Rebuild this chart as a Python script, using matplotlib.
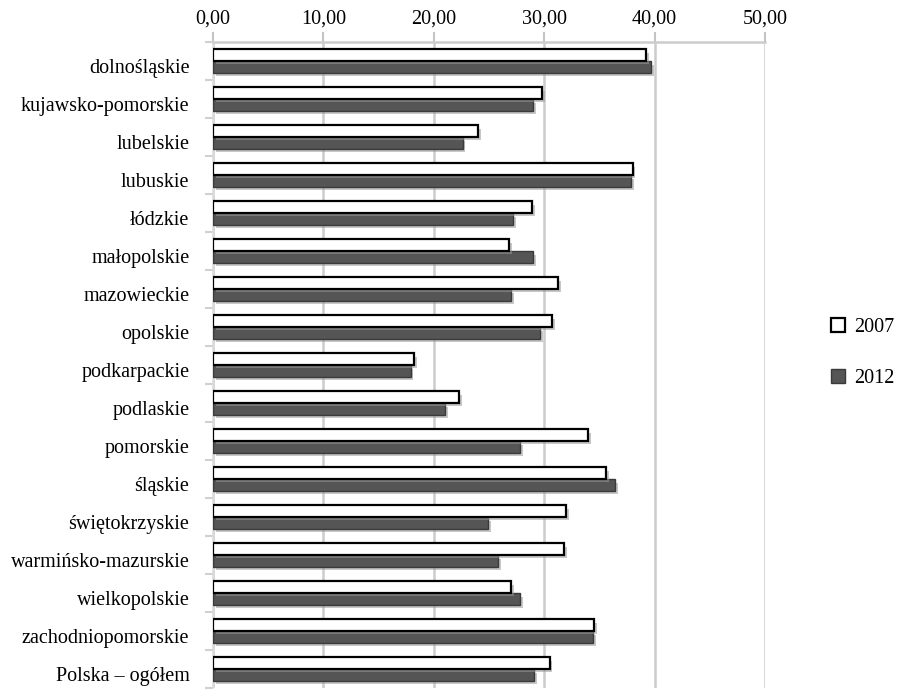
import matplotlib
matplotlib.use("Agg")
import matplotlib.pyplot as plt
import matplotlib.patheffects as pe
import matplotlib.transforms as mtransforms
from matplotlib.patches import Patch
import numpy as np

categories = ["dolnośląskie", "kujawsko-pomorskie", "lubelskie", "lubuskie", "łódzkie",
              "małopolskie", "mazowieckie", "opolskie", "podkarpackie", "podlaskie",
              "pomorskie", "śląskie", "świętokrzyskie", "warmińsko-mazurskie",
              "wielkopolskie", "zachodniopomorskie", "Polska – ogółem"]
v2007 = [39.2, 29.8, 24.0, 38.0, 28.9, 26.8, 31.25, 30.7, 18.2, 22.3, 34.0, 35.6,
         32.0, 31.8, 27.0, 34.5, 30.5]
v2012 = [39.7, 29.0, 22.6, 37.9, 27.2, 29.0, 27.0, 29.65, 17.9, 21.0, 27.8, 36.4,
         24.9, 25.8, 27.8, 34.4, 29.1]
xticks = [0, 10, 20, 30, 40, 50]
xticklabels = ["0,00", "10,00", "20,00", "30,00", "40,00", "50,00"]
series_names = ["2007", "2012"]

plt.rcParams['font.family'] = ['Liberation Serif', 'DejaVu Serif']
FS = 14.5

fig = plt.figure(figsize=(8.99, 6.96), dpi=100)
ax = fig.add_axes([213/899, 1 - 688/696, (765-213)/899, (688-42)/696])

y = np.arange(len(categories))
h = 0.31
shadow = [pe.SimplePatchShadow(offset=(2, -2.5), shadow_rgbFace='#999999', alpha=0.55), pe.Normal()]
b2 = ax.barh(y + h/2 + 0.005, v2012, height=h, color='#555555', edgecolor='#3a3a3a',
             linewidth=1.0, zorder=3)
b1 = ax.barh(y - h/2, v2007, height=h, color='white', edgecolor='black',
             linewidth=1.6, zorder=4)
for p in list(b1) + list(b2):
    p.set_path_effects(shadow)

ax.set_xlim(0, 50)
ax.set_ylim(len(categories) - 0.5, -0.5)
ax.xaxis.tick_top()
ax.set_xticks(xticks)
ax.set_xticklabels(xticklabels, fontsize=FS)
ax.tick_params(axis='x', length=7, color='#c4c4c4', width=1.5, pad=3)
ax.set_yticks(y)
ax.set_yticklabels(categories, fontsize=FS)
ax.tick_params(axis='y', which='major', length=0, pad=17)
ax.set_yticks(np.arange(-0.5, len(categories), 1), minor=True)
ax.tick_params(axis='y', which='minor', length=6, color='#d0d0d0', width=1.5)
offset = mtransforms.ScaledTranslation(0, -5/100, fig.dpi_scale_trans)
for lab in ax.get_yticklabels():
    lab.set_transform(lab.get_transform() + offset)

ax.grid(axis='x', color='#cccccc', linewidth=1.8, zorder=0)
ax.set_axisbelow(True)
for s in ['right', 'bottom']:
    ax.spines[s].set_visible(False)
ax.spines['top'].set_color('#cccccc')
ax.spines['top'].set_linewidth(1.8)
ax.spines['left'].set_color('#dddddd')
ax.spines['left'].set_linewidth(1.2)

handles = [Patch(facecolor='white', edgecolor='black', linewidth=1.6),
           Patch(facecolor='#555555', edgecolor='#3a3a3a', linewidth=1.0)]
fig.legend(handles, series_names, loc='center left', bbox_to_anchor=(831/899, 1 - 353/696),
           frameon=False, fontsize=FS, handlelength=0.7, handleheight=0.7,
           handletextpad=0.45, labelspacing=1.55, borderpad=0, borderaxespad=0)

fig.savefig("out.png", dpi=100)
